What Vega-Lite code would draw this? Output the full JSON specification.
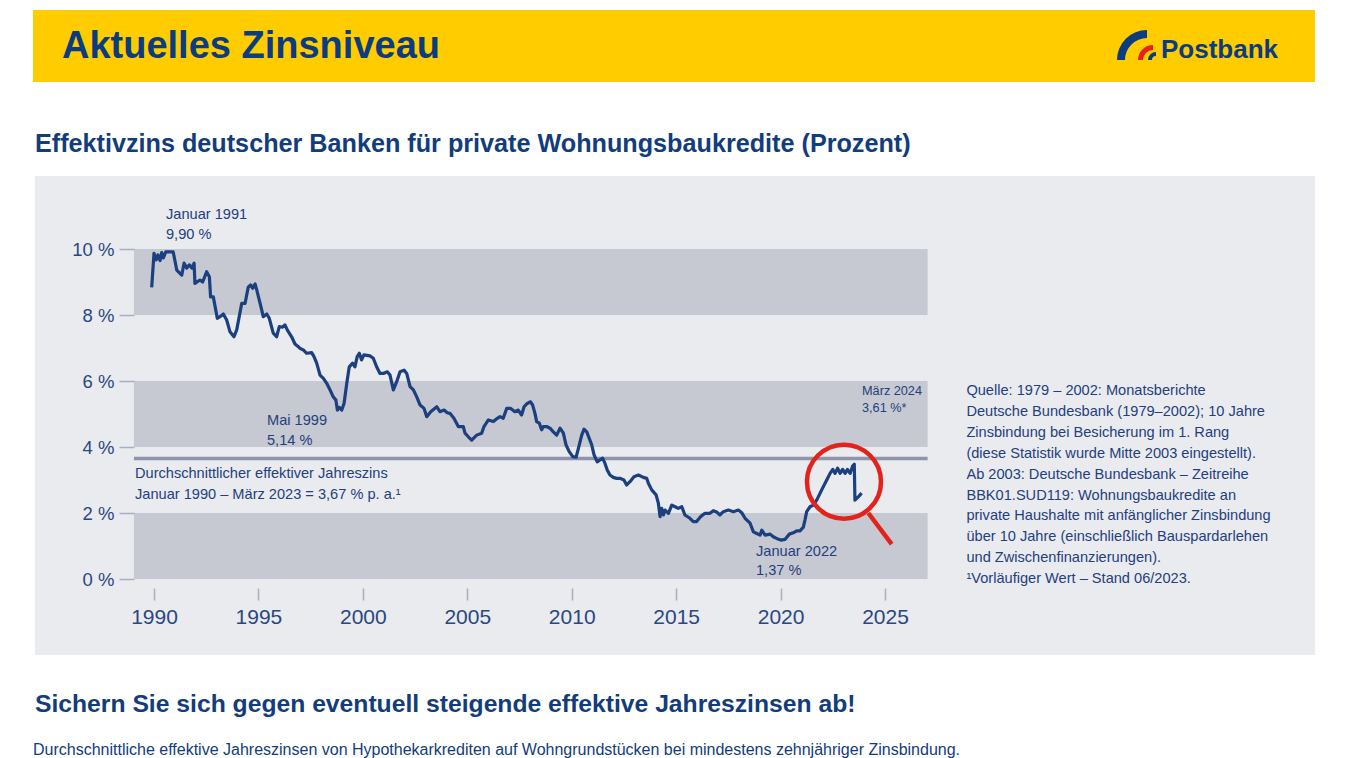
{
"$schema":"https://vega.github.io/schema/vega-lite/v6.json",
"width":1347,"height":758,"autosize":"none","padding":0,"background":"#ffffff",
"config":{"view":{"stroke":null},"font":"Liberation Sans"},
"data":{"values":[{}]},
"layer":[
{"mark":{"type":"rect","color":"#FFCC00"},"encoding":{"x":{"datum":1984.207},"x2":{"datum":2045.589},"y":{"datum":17.242},"y2":{"datum":15.061}}},
{"mark":{"type":"rect","color":"#E9EBEF"},"encoding":{"x":{"datum":1984.302},"x2":{"datum":2045.589},"y":{"datum":12.212},"y2":{"datum":-2.303}}},
{"data":{"values":[{"lo":8,"hi":10},{"lo":4,"hi":6},{"lo":0,"hi":2}]},"mark":{"type":"rect","color":"#C6C9D2"},"encoding":{"x":{"datum":1989.04},"x2":{"datum":2027.04},"y":{"field":"lo","type":"quantitative"},"y2":{"field":"hi"}}},
{"mark":{"type":"rule","color":"#8E94AA","strokeWidth":3.5},"encoding":{"x":{"datum":1989.04},"x2":{"datum":2027.04},"y":{"datum":3.65}}},
{"data":{"values":[
{"t":1989.89,"r":8.84},{"t":1990.00,"r":9.87},{"t":1990.10,"r":9.67},{"t":1990.19,"r":9.82},{"t":1990.29,"r":9.65},{"t":1990.37,"r":9.89},{"t":1990.45,"r":9.73},{"t":1990.56,"r":9.91},{"t":1990.92,"r":9.91},{"t":1991.01,"r":9.62},{"t":1991.09,"r":9.36},{"t":1991.33,"r":9.21},{"t":1991.44,"r":9.57},{"t":1991.57,"r":9.42},{"t":1991.69,"r":9.52},{"t":1991.81,"r":9.42},{"t":1991.92,"r":9.57},{"t":1991.96,"r":8.96},{"t":1992.20,"r":9.06},{"t":1992.33,"r":9.00},{"t":1992.52,"r":9.31},{"t":1992.65,"r":9.16},{"t":1992.71,"r":8.55},{"t":1992.84,"r":8.55},{"t":1993.03,"r":7.90},{"t":1993.16,"r":7.95},{"t":1993.32,"r":8.03},{"t":1993.48,"r":7.85},{"t":1993.64,"r":7.49},{"t":1993.83,"r":7.34},{"t":1993.96,"r":7.55},{"t":1994.20,"r":8.35},{"t":1994.36,"r":8.35},{"t":1994.51,"r":8.84},{"t":1994.63,"r":8.91},{"t":1994.73,"r":8.81},{"t":1994.84,"r":8.94},{"t":1994.92,"r":8.76},{"t":1995.16,"r":8.15},{"t":1995.23,"r":7.95},{"t":1995.40,"r":8.03},{"t":1995.52,"r":7.90},{"t":1995.71,"r":7.45},{"t":1995.87,"r":7.34},{"t":1996.00,"r":7.65},{"t":1996.16,"r":7.63},{"t":1996.27,"r":7.70},{"t":1996.38,"r":7.55},{"t":1996.59,"r":7.34},{"t":1996.75,"r":7.12},{"t":1996.91,"r":7.04},{"t":1996.99,"r":6.99},{"t":1997.15,"r":6.94},{"t":1997.31,"r":6.84},{"t":1997.55,"r":6.86},{"t":1997.66,"r":6.74},{"t":1997.79,"r":6.54},{"t":1997.95,"r":6.18},{"t":1998.11,"r":6.08},{"t":1998.27,"r":5.93},{"t":1998.43,"r":5.73},{"t":1998.58,"r":5.52},{"t":1998.71,"r":5.42},{"t":1998.78,"r":5.12},{"t":1998.87,"r":5.20},{"t":1998.99,"r":5.12},{"t":1999.10,"r":5.32},{"t":1999.23,"r":5.93},{"t":1999.35,"r":6.43},{"t":1999.51,"r":6.54},{"t":1999.62,"r":6.43},{"t":1999.73,"r":6.74},{"t":1999.83,"r":6.84},{"t":1999.94,"r":6.64},{"t":2000.05,"r":6.79},{"t":2000.34,"r":6.76},{"t":2000.50,"r":6.69},{"t":2000.66,"r":6.43},{"t":2000.82,"r":6.23},{"t":2000.98,"r":6.23},{"t":2001.17,"r":6.28},{"t":2001.30,"r":6.18},{"t":2001.46,"r":5.73},{"t":2001.62,"r":5.98},{"t":2001.78,"r":6.28},{"t":2001.97,"r":6.33},{"t":2002.10,"r":6.23},{"t":2002.26,"r":5.83},{"t":2002.42,"r":5.73},{"t":2002.58,"r":5.52},{"t":2002.74,"r":5.27},{"t":2002.93,"r":5.17},{"t":2003.06,"r":4.92},{"t":2003.25,"r":5.07},{"t":2003.54,"r":5.22},{"t":2003.69,"r":5.07},{"t":2003.89,"r":5.12},{"t":2004.04,"r":5.04},{"t":2004.17,"r":5.02},{"t":2004.36,"r":4.87},{"t":2004.57,"r":4.62},{"t":2004.81,"r":4.62},{"t":2004.89,"r":4.42},{"t":2005.05,"r":4.31},{"t":2005.21,"r":4.21},{"t":2005.45,"r":4.36},{"t":2005.69,"r":4.42},{"t":2005.80,"r":4.62},{"t":2006.01,"r":4.82},{"t":2006.25,"r":4.77},{"t":2006.44,"r":4.87},{"t":2006.57,"r":4.92},{"t":2006.72,"r":4.87},{"t":2006.89,"r":5.17},{"t":2007.08,"r":5.17},{"t":2007.28,"r":5.07},{"t":2007.44,"r":5.12},{"t":2007.60,"r":4.97},{"t":2007.72,"r":5.22},{"t":2007.87,"r":5.32},{"t":2008.03,"r":5.37},{"t":2008.13,"r":5.27},{"t":2008.24,"r":5.02},{"t":2008.32,"r":4.77},{"t":2008.45,"r":4.72},{"t":2008.56,"r":4.52},{"t":2008.64,"r":4.62},{"t":2008.80,"r":4.62},{"t":2008.96,"r":4.57},{"t":2009.12,"r":4.46},{"t":2009.28,"r":4.36},{"t":2009.44,"r":4.57},{"t":2009.60,"r":4.42},{"t":2009.73,"r":4.06},{"t":2009.88,"r":3.86},{"t":2010.05,"r":3.71},{"t":2010.21,"r":3.69},{"t":2010.32,"r":3.96},{"t":2010.48,"r":4.36},{"t":2010.59,"r":4.54},{"t":2010.72,"r":4.46},{"t":2010.84,"r":4.26},{"t":2010.96,"r":4.06},{"t":2011.07,"r":3.76},{"t":2011.22,"r":3.55},{"t":2011.35,"r":3.61},{"t":2011.48,"r":3.66},{"t":2011.59,"r":3.51},{"t":2011.70,"r":3.30},{"t":2011.83,"r":3.15},{"t":2011.99,"r":3.08},{"t":2012.15,"r":3.05},{"t":2012.31,"r":3.05},{"t":2012.50,"r":3.00},{"t":2012.63,"r":2.85},{"t":2012.79,"r":2.95},{"t":2012.98,"r":3.10},{"t":2013.19,"r":3.15},{"t":2013.43,"r":3.08},{"t":2013.59,"r":3.05},{"t":2013.67,"r":2.90},{"t":2013.83,"r":2.70},{"t":2014.04,"r":2.55},{"t":2014.15,"r":2.29},{"t":2014.23,"r":1.89},{"t":2014.31,"r":2.14},{"t":2014.39,"r":1.94},{"t":2014.47,"r":2.09},{"t":2014.63,"r":1.99},{"t":2014.79,"r":2.24},{"t":2014.95,"r":2.19},{"t":2015.10,"r":2.14},{"t":2015.27,"r":2.19},{"t":2015.42,"r":1.94},{"t":2015.66,"r":1.84},{"t":2015.82,"r":1.74},{"t":2015.98,"r":1.74},{"t":2016.17,"r":1.89},{"t":2016.38,"r":1.99},{"t":2016.62,"r":1.99},{"t":2016.78,"r":2.07},{"t":2016.94,"r":2.03},{"t":2017.10,"r":1.94},{"t":2017.26,"r":2.04},{"t":2017.50,"r":2.09},{"t":2017.74,"r":2.04},{"t":2017.98,"r":2.09},{"t":2018.14,"r":2.01},{"t":2018.30,"r":1.84},{"t":2018.54,"r":1.69},{"t":2018.70,"r":1.43},{"t":2018.86,"r":1.38},{"t":2019.02,"r":1.33},{"t":2019.10,"r":1.48},{"t":2019.26,"r":1.33},{"t":2019.50,"r":1.36},{"t":2019.65,"r":1.28},{"t":2019.81,"r":1.23},{"t":2020.01,"r":1.18},{"t":2020.21,"r":1.20},{"t":2020.42,"r":1.36},{"t":2020.61,"r":1.40},{"t":2020.77,"r":1.46},{"t":2020.93,"r":1.46},{"t":2021.09,"r":1.57},{"t":2021.17,"r":1.79},{"t":2021.25,"r":2.04},{"t":2021.41,"r":2.19},{"t":2021.57,"r":2.24},{"t":2021.73,"r":2.39},{"t":2021.97,"r":2.70},{"t":2022.21,"r":3.00},{"t":2022.37,"r":3.20},{"t":2022.50,"r":3.32},{"t":2022.61,"r":3.20},{"t":2022.73,"r":3.36},{"t":2022.85,"r":3.20},{"t":2022.97,"r":3.32},{"t":2023.09,"r":3.20},{"t":2023.20,"r":3.32},{"t":2023.33,"r":3.20},{"t":2023.45,"r":3.42},{"t":2023.53,"r":3.48},{"t":2023.56,"r":2.39},{"t":2023.72,"r":2.49},{"t":2023.88,"r":2.60}
]},
"mark":{"type":"line","color":"#1B3F7F","strokeWidth":3.2,"strokeJoin":"round"},
"encoding":{
"x":{"field":"t","type":"quantitative","scale":{"domain":[1982.627,2047.12],"nice":false,"zero":false},
 "axis":{"title":null,"orient":"bottom","offset":-170,"values":[1990,1995,2000,2005,2010,2015,2020,2025],"format":"d","domain":false,"grid":false,"tickSize":12,"tickColor":"#A9AFBE","tickWidth":1.5,"labelPadding":6,"labelFontSize":21,"labelColor":"#2A4780","labelFont":"Liberation Sans","zindex":1}},
"y":{"field":"r","type":"quantitative","scale":{"domain":[-5.4242,17.5455],"nice":false,"zero":false},
 "axis":{"title":null,"orient":"left","offset":-134,"values":[0,2,4,6,8,10],"labelExpr":"datum.value + ' %'","domain":false,"grid":false,"tickSize":15,"tickColor":"#A9AFBE","tickWidth":1.5,"labelPadding":5,"labelFontSize":18.5,"labelColor":"#2A4780","labelFont":"Liberation Sans","zindex":1}}
}},
{"data":{"values":[{"label":"Januar 1991\n9,90 %"}]},"mark":{"type":"text","align":"left","baseline":"alphabetic","lineBreak":"\n","lineHeight":19.5,"fontSize":14.6,"color":"#24407C"},"encoding":{"x":{"datum":1990.575},"y":{"datum":10.9},"text":{"field":"label"}}},
{"data":{"values":[{"label":"Mai 1999\n5,14 %"}]},"mark":{"type":"text","align":"left","baseline":"alphabetic","lineBreak":"\n","lineHeight":20,"fontSize":14.6,"color":"#24407C"},"encoding":{"x":{"datum":1995.41},"y":{"datum":4.658},"text":{"field":"label"}}},
{"data":{"values":[{"label":"Durchschnittlicher effektiver Jahreszins\nJanuar 1990 – März 2023 = 3,67 % p. a.¹"}]},"mark":{"type":"text","align":"left","baseline":"alphabetic","lineBreak":"\n","lineHeight":21,"fontSize":14.6,"color":"#24407C"},"encoding":{"x":{"datum":1989.09},"y":{"datum":3.052},"text":{"field":"label"}}},
{"data":{"values":[{"label":"Januar 2022\n1,37 %"}]},"mark":{"type":"text","align":"left","baseline":"alphabetic","lineBreak":"\n","lineHeight":19,"fontSize":14.6,"color":"#24407C"},"encoding":{"x":{"datum":2018.823},"y":{"datum":0.697},"text":{"field":"label"}}},
{"data":{"values":[{"label":"März 2024\n3,61 %*"}]},"mark":{"type":"text","align":"left","baseline":"alphabetic","lineBreak":"\n","lineHeight":17,"fontSize":12.7,"color":"#24407C"},"encoding":{"x":{"datum":2023.90},"y":{"datum":5.570},"text":{"field":"label"}}},
{"data":{"values":[{"label":"Quelle: 1979 – 2002: Monatsberichte\nDeutsche Bundesbank (1979–2002); 10 Jahre\nZinsbindung bei Besicherung im 1. Rang\n(diese Statistik wurde Mitte 2003 eingestellt).\nAb 2003: Deutsche Bundesbank – Zeitreihe\nBBK01.SUD119: Wohnungsbaukredite an\nprivate Haushalte mit anfänglicher Zinsbindung\nüber 10 Jahre (einschließlich Bauspardarlehen\nund Zwischenfinanzierungen).\n¹Vorläufiger Wert – Stand 06/2023."}]},"mark":{"type":"text","align":"left","baseline":"alphabetic","lineBreak":"\n","lineHeight":20.85,"fontSize":14.6,"color":"#24407C"},"encoding":{"x":{"datum":2028.897},"y":{"datum":5.567},"text":{"field":"label"}}},
{"mark":{"type":"point","shape":"circle","filled":false,"size":5476,"strokeWidth":4.5,"color":"#E3231B","opacity":1},"encoding":{"x":{"datum":2023.036},"y":{"datum":2.95}}},
{"mark":{"type":"rule","color":"#E3231B","strokeWidth":4.5},"encoding":{"x":{"datum":2024.2},"y":{"datum":2.0},"x2":{"datum":2025.32},"y2":{"datum":1.06}}},
{"data":{"values":[{"label":"Aktuelles Zinsniveau"}]},"mark":{"type":"text","align":"left","baseline":"alphabetic","fontSize":38,"fontWeight":"bold","color":"#0B3B80"},"encoding":{"x":{"datum":1985.595},"y":{"datum":15.779},"text":{"field":"label"}}},
{"data":{"values":[{"label":"Postbank"}]},"mark":{"type":"text","align":"left","baseline":"alphabetic","fontSize":26,"fontWeight":"bold","color":"#0B3B80"},"encoding":{"x":{"datum":2038.214},"y":{"datum":15.803},"text":{"field":"label"}}},
{"mark":{"type":"arc","theta":-1.5708,"theta2":0,"innerRadius":22,"outerRadius":30,"color":"#0B3B80"},"encoding":{"x":{"datum":2037.544},"y":{"datum":15.727}}},
{"mark":{"type":"arc","theta":-1.5708,"theta2":0,"innerRadius":10,"outerRadius":15,"color":"#E3231B"},"encoding":{"x":{"datum":2037.831},"y":{"datum":15.727}}},
{"mark":{"type":"arc","theta":-1.5708,"theta2":0,"innerRadius":4,"outerRadius":8,"color":"#0B3B80"},"encoding":{"x":{"datum":2037.975},"y":{"datum":15.727}}},
{"data":{"values":[{"label":"Effektivzins deutscher Banken für private Wohnungsbaukredite (Prozent)"}]},"mark":{"type":"text","align":"left","baseline":"alphabetic","fontSize":25.2,"fontWeight":"bold","color":"#123C7C"},"encoding":{"x":{"datum":1984.302},"y":{"datum":12.952},"text":{"field":"label"}}},
{"data":{"values":[{"label":"Sichern Sie sich gegen eventuell steigende effektive Jahreszinsen ab!"}]},"mark":{"type":"text","align":"left","baseline":"alphabetic","fontSize":24.7,"fontWeight":"bold","color":"#123C7C"},"encoding":{"x":{"datum":1984.302},"y":{"datum":-4.039},"text":{"field":"label"}}},
{"data":{"values":[{"label":"Durchschnittliche effektive Jahreszinsen von Hypothekarkrediten auf Wohngrundstücken bei mindestens zehnjähriger Zinsbindung."}]},"mark":{"type":"text","align":"left","baseline":"alphabetic","fontSize":16,"color":"#123C7C"},"encoding":{"x":{"datum":1984.207},"y":{"datum":-5.345},"text":{"field":"label"}}}
]
}
